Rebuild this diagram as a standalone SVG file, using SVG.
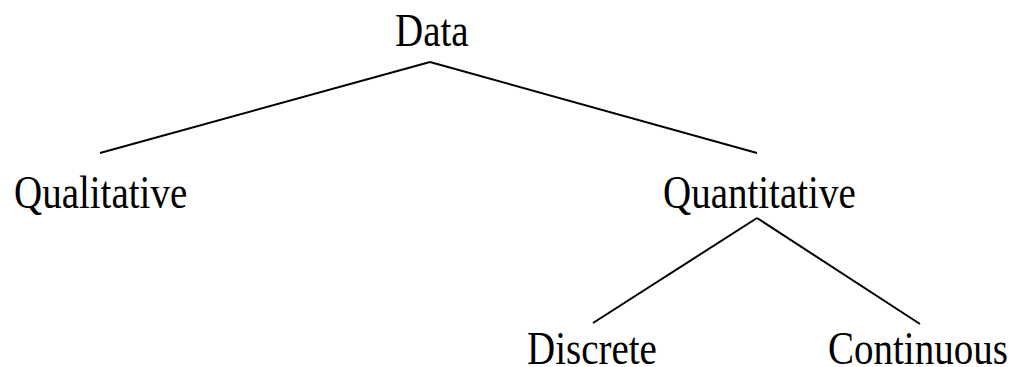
<svg xmlns="http://www.w3.org/2000/svg" width="1014" height="367" viewBox="0 0 1014 367">
<style>
text{font-family:"Liberation Serif","Times New Roman",serif;font-size:39px;fill:#000}
.c line{stroke:#000;stroke-width:2}
</style>
<rect width="1014" height="367" fill="#fff"/>
<g id="connectors" class="c">
<line x1="430" y1="62" x2="100" y2="153"/>
<line x1="430" y1="62" x2="757" y2="153"/>
<line x1="757" y1="218" x2="593" y2="323"/>
<line x1="757" y1="218" x2="920" y2="324"/>
</g>
<g id="data"><text transform="translate(395,46) scale(1,1.2)">Data</text></g>
<g id="qualitative"><text transform="translate(14,208) scale(1,1.2)">Qualitative</text></g>
<g id="quantitative"><text transform="translate(663,208) scale(1,1.2)">Quantitative</text></g>
<g id="discrete"><text transform="translate(527,364) scale(1,1.2)">Discrete</text></g>
<g id="continuous"><text transform="translate(828,364) scale(1,1.2)">Continuous</text></g>
</svg>
